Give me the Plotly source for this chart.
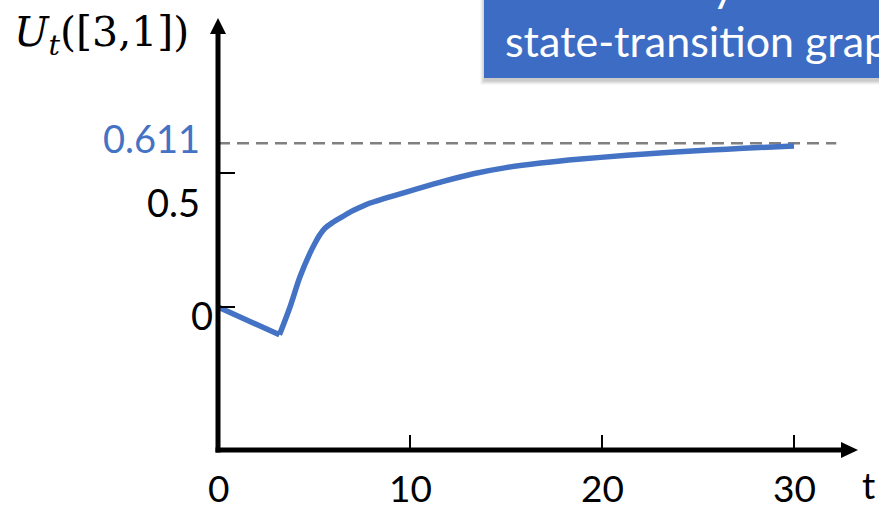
import plotly.graph_objects as go

# U_t([3,1]) as a function of time step t
t_vals = [0, 3.2, 3.75, 4.27, 4.79, 5.05, 5.31, 5.57, 5.99, 6.46, 6.88,
          7.40, 7.92, 9.8, 11.6, 13.3, 15.0, 16.8, 18.9, 21.3, 23.0, 24.7,
          26.5, 28.2, 30.0]
u_vals = [0, -0.104, 0.0, 0.113, 0.201, 0.238, 0.270, 0.294, 0.316, 0.336,
          0.354, 0.372, 0.388, 0.429, 0.466, 0.497, 0.520, 0.537, 0.552,
          0.566, 0.575, 0.582, 0.589, 0.595, 0.601]
limit_value = 0.611

x_ticks = [0, 10, 20, 30]
x_tick_labels = ["0", "10", "20", "30"]
y_ticks = [0, 0.5]
y_tick_labels = ["0", "0.5"]

W, H = 879, 509
BLUE = "#4472C4"
NUM_FONT = dict(family="Lato", size=37, color="black")

# axis geometry (data units)
X_PER_PX = 1 / 19.2
Y_PER_PX = 1 / 268.0
x_min = -218 * X_PER_PX
x_max = x_min + W * X_PER_PX
y_max = 307 * Y_PER_PX
y_min = y_max - H * Y_PER_PX
x_axis_y = (307 - 450) * Y_PER_PX
y_axis_top = (307 - 18) * Y_PER_PX
x_axis_end = (858 - 218) * X_PER_PX
AXIS_W = 5

fig = go.Figure()

line_style = dict(color=BLUE, width=5.5)
# initial dip (straight segment)
fig.add_trace(go.Scatter(x=t_vals[:2], y=u_vals[:2], mode="lines",
                         line=line_style, hoverinfo="skip"))
# recovery towards the limit (smooth)
fig.add_trace(go.Scatter(x=t_vals[1:], y=u_vals[1:], mode="lines",
                         line=dict(shape="spline", smoothing=1.0, **line_style),
                         hoverinfo="skip"))

shapes = []
# limit line
shapes.append(dict(type="line", xref="x", yref="y", x0=0, x1=32.2,
                   y0=limit_value, y1=limit_value, layer="below",
                   line=dict(color="#808080", width=2.5, dash="12px,7px")))
# axis lines
half = AXIS_W / 2
shapes.append(dict(type="line", xref="x", yref="y", x0=0, x1=0,
                   y0=x_axis_y - half * Y_PER_PX, y1=y_axis_top - 14 * Y_PER_PX,
                   line=dict(color="black", width=AXIS_W)))
shapes.append(dict(type="line", xref="x", yref="y", y0=x_axis_y, y1=x_axis_y,
                   x0=-half * X_PER_PX, x1=x_axis_end - 14 * X_PER_PX,
                   line=dict(color="black", width=AXIS_W)))
# arrowheads (pixel-sized paths anchored at the axis tips)
shapes.append(dict(type="path", xref="x", yref="y", xsizemode="pixel",
                   ysizemode="pixel", xanchor=0, yanchor=y_axis_top,
                   path="M-8,-16 L8,-16 L0,0 Z", fillcolor="black",
                   line=dict(width=0)))
shapes.append(dict(type="path", xref="x", yref="y", xsizemode="pixel",
                   ysizemode="pixel", xanchor=x_axis_end, yanchor=x_axis_y,
                   path="M-17,8 L-17,-8 L0,0 Z", fillcolor="black",
                   line=dict(width=0)))
# x tick marks
for xv in x_ticks[1:]:
    shapes.append(dict(type="line", xref="x", yref="y", ysizemode="pixel",
                       yanchor=x_axis_y, x0=xv, x1=xv, y0=0, y1=15,
                       line=dict(color="black", width=2)))
# y tick marks
for yv in y_ticks:
    shapes.append(dict(type="line", xref="x", yref="y", xsizemode="pixel",
                       xanchor=0, x0=0, x1=17, y0=yv, y1=yv,
                       line=dict(color="black", width=2)))

# title box with soft shadow
bx0, by1 = 484 / W, 1 - 78 / H
for i, op in enumerate([0.06, 0.07, 0.09]):
    g = (3 - i) * 1.5
    shapes.append(dict(type="rect", xref="paper", yref="paper", layer="above",
                       x0=bx0 - (g - 1) / W, x1=1.1, y0=by1 - (g + 2) / H, y1=1.1,
                       fillcolor=f"rgba(0,0,0,{op})", line=dict(width=0)))
shapes.append(dict(type="rect", xref="paper", yref="paper", layer="above",
                   x0=bx0, x1=1.1, y0=by1, y1=1.1,
                   fillcolor="#3d6cc5", line=dict(width=0)))

annotations = []
# x tick labels
for xv, lab in zip(x_ticks, x_tick_labels):
    annotations.append(dict(x=xv, y=x_axis_y, xref="x", yref="y", text=lab,
                            showarrow=False, yanchor="middle", yshift=-37,
                            font=NUM_FONT))
annotations.append(dict(x=x_axis_end, y=x_axis_y, xref="x", yref="y", text="t",
                        showarrow=False, xanchor="left", yanchor="middle",
                        xshift=2, yshift=-34, font=NUM_FONT))
# y tick labels
y_shifts = [(-3, -8), (-16, -29)]
for (yv, lab), (dx, dy) in zip(zip(y_ticks, y_tick_labels), y_shifts):
    annotations.append(dict(x=0, y=yv, xref="x", yref="y", text=lab,
                            showarrow=False, xanchor="right", yanchor="middle",
                            xshift=dx, yshift=dy,
                            font=dict(family="Lato", size=38, color="black")))
annotations.append(dict(x=0, y=limit_value, xref="x", yref="y",
                        text=f"{limit_value:.3f}", showarrow=False,
                        xanchor="right", yanchor="middle", xshift=-16, yshift=5,
                        font=dict(family="Lato", size=38, color=BLUE)))
# y axis title
annotations.append(dict(x=12 / W, y=1 - 35 / H, xref="paper", yref="paper",
                        text="<i>U</i><sub><i>t</i></sub>([3,1])",
                        showarrow=False, xanchor="left", yanchor="middle",
                        font=dict(family="DejaVu Serif", size=41, color="black")))
# box text
annotations.append(dict(x=503 / W, y=1 - 40 / H, xref="paper", yref="paper",
                        text="state-transition graph", showarrow=False,
                        xanchor="left", yanchor="middle",
                        font=dict(family="Lato", size=43, color="white")))
annotations.append(dict(x=710 / W, y=1 + 16 / H, xref="paper", yref="paper",
                        text="y", showarrow=False,
                        xanchor="left", yanchor="middle",
                        font=dict(family="Lato", size=45, color="white")))

fig.update_layout(
    width=W, height=H, autosize=False,
    margin=dict(l=0, r=0, t=0, b=0, pad=0),
    paper_bgcolor="white", plot_bgcolor="white",
    showlegend=False,
    xaxis=dict(range=[x_min, x_max], visible=False, fixedrange=True),
    yaxis=dict(range=[y_min, y_max], visible=False, fixedrange=True),
    shapes=shapes, annotations=annotations,
)

fig.write_html("out.html")
